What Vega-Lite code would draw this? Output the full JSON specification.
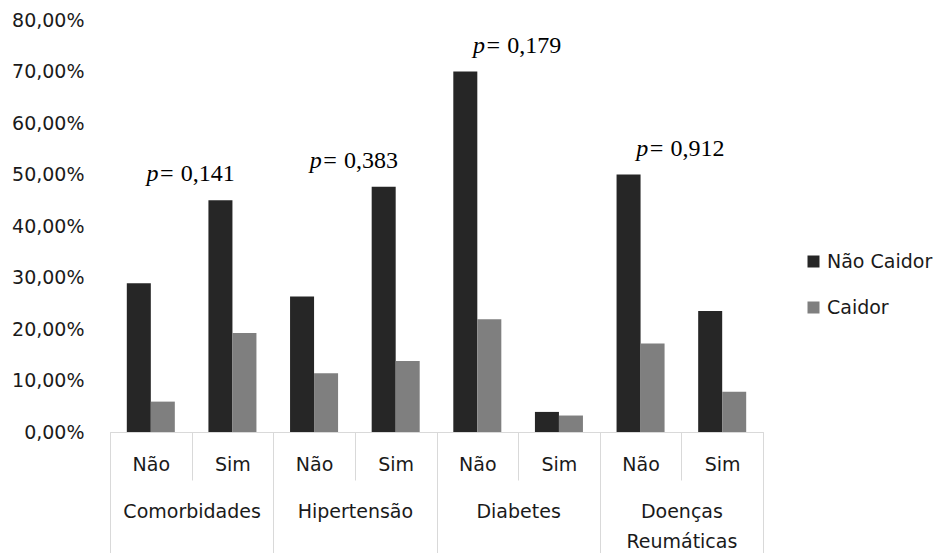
{
  "$schema": "https://vega.github.io/schema/vega-lite/v6.json",
  "width": 653,
  "height": 412,
  "autosize": "none",
  "padding": {"left": 110, "top": 20, "right": 176, "bottom": 121},
  "background": "white",
  "config": {
    "view": {"stroke": null},
    "font": "DejaVu Sans",
    "locale": {"number": {"decimal": ",", "thousands": ".", "grouping": [3], "currency": ["R$", ""]}}
  },
  "datasets": {
    "bars": [
      {"group": "Comorbidades", "key": "Comorbidades|Não", "serie": "Não Caidor", "value": 0.289},
      {"group": "Comorbidades", "key": "Comorbidades|Não", "serie": "Caidor", "value": 0.059},
      {"group": "Comorbidades", "key": "Comorbidades|Sim", "serie": "Não Caidor", "value": 0.450},
      {"group": "Comorbidades", "key": "Comorbidades|Sim", "serie": "Caidor", "value": 0.192},
      {"group": "Hipertensão", "key": "Hipertensão|Não", "serie": "Não Caidor", "value": 0.263},
      {"group": "Hipertensão", "key": "Hipertensão|Não", "serie": "Caidor", "value": 0.114},
      {"group": "Hipertensão", "key": "Hipertensão|Sim", "serie": "Não Caidor", "value": 0.476},
      {"group": "Hipertensão", "key": "Hipertensão|Sim", "serie": "Caidor", "value": 0.138},
      {"group": "Diabetes", "key": "Diabetes|Não", "serie": "Não Caidor", "value": 0.700},
      {"group": "Diabetes", "key": "Diabetes|Não", "serie": "Caidor", "value": 0.219},
      {"group": "Diabetes", "key": "Diabetes|Sim", "serie": "Não Caidor", "value": 0.039},
      {"group": "Diabetes", "key": "Diabetes|Sim", "serie": "Caidor", "value": 0.032},
      {"group": "Doenças Reumáticas", "key": "Doenças Reumáticas|Não", "serie": "Não Caidor", "value": 0.500},
      {"group": "Doenças Reumáticas", "key": "Doenças Reumáticas|Não", "serie": "Caidor", "value": 0.172},
      {"group": "Doenças Reumáticas", "key": "Doenças Reumáticas|Sim", "serie": "Não Caidor", "value": 0.235},
      {"group": "Doenças Reumáticas", "key": "Doenças Reumáticas|Sim", "serie": "Caidor", "value": 0.078}
    ],
    "pvals": [
      {"group": "Comorbidades", "p": 0.141},
      {"group": "Hipertensão", "p": 0.383},
      {"group": "Diabetes", "p": 0.179},
      {"group": "Doenças Reumáticas", "p": 0.912}
    ]
  },
  "layer": [
    {
      "data": {"name": "bars"},
      "mark": {"type": "bar"},
      "encoding": {
        "x": {
          "field": "key", "type": "nominal", "sort": null,
          "scale": {"paddingInner": 0, "paddingOuter": 0},
          "axis": {
            "title": null, "orient": "bottom", "labelAngle": 0,
            "labelExpr": "split(datum.label, '|')[1]",
            "tickBand": "extent", "tickSize": 48, "tickColor": "#d9d9d9", "tickWidth": 1,
            "domainColor": "#d9d9d9", "domainWidth": 1,
            "labelPadding": -25, "labelBaseline": "top",
            "labelFont": "DejaVu Sans", "labelFontSize": 19, "labelColor": "#1a1a1a",
            "labelOverlap": false
          }
        },
        "xOffset": {
          "field": "serie", "type": "nominal", "sort": ["Não Caidor", "Caidor"],
          "scale": {"paddingInner": 0, "paddingOuter": 0.7}
        },
        "y": {
          "field": "value", "type": "quantitative",
          "scale": {"domain": [0, 0.8], "nice": false},
          "axis": {
            "title": null, "values": [0, 0.1, 0.2, 0.3, 0.4, 0.5, 0.6, 0.7, 0.8],
            "format": ".2%", "domain": false, "ticks": false, "grid": false,
            "labelPadding": 26, "labelFont": "DejaVu Sans", "labelFontSize": 19, "labelColor": "#1a1a1a"
          }
        },
        "color": {
          "field": "serie", "type": "nominal", "sort": ["Não Caidor", "Caidor"],
          "scale": {"range": ["#262626", "#7f7f7f"]},
          "legend": {
            "title": null, "orient": "none", "legendX": 694, "legendY": 232,
            "symbolType": "square", "symbolSize": 144, "symbolStrokeWidth": 0,
            "labelFont": "DejaVu Sans", "labelFontSize": 19, "labelColor": "#1a1a1a",
            "rowPadding": 26, "labelOffset": 4
          }
        }
      }
    },
    {
      "data": {"name": "bars"},
      "transform": [
        {"aggregate": [{"op": "max", "field": "value", "as": "top"}], "groupby": ["group"]},
        {"lookup": "group", "from": {"data": {"name": "pvals"}, "key": "group", "fields": ["p"]}}
      ],
      "encoding": {
        "x": {
          "field": "group", "type": "nominal",
          "sort": ["Comorbidades", "Hipertensão", "Diabetes", "Doenças Reumáticas"],
          "scale": {"paddingInner": 0, "paddingOuter": 0},
          "axis": {
            "title": null, "orient": "bottom", "labelAngle": 0,
            "labelExpr": "split(datum.label, ' ')",
            "tickBand": "extent", "tickSize": 121, "tickColor": "#d9d9d9", "tickWidth": 1,
            "domainColor": "#d9d9d9", "domainWidth": 1,
            "labelPadding": -51, "labelBaseline": "top", "labelLineHeight": 30,
            "labelFont": "DejaVu Sans", "labelFontSize": 19, "labelColor": "#1a1a1a",
            "labelOverlap": false
          }
        },
        "y": {"field": "top", "type": "quantitative"}
      },
      "layer": [
        {
          "mark": {"type": "text", "text": "p=", "font": "Liberation Serif", "fontStyle": "italic", "fontSize": 24, "align": "right", "baseline": "middle", "dx": -17, "dy": -26, "color": "#000000"}
        },
        {
          "mark": {"type": "text", "font": "Liberation Serif", "fontSize": 24, "align": "left", "baseline": "middle", "dx": -11, "dy": -26, "color": "#000000"},
          "encoding": {"text": {"field": "p", "type": "quantitative", "format": ".3f"}}
        }
      ]
    }
  ],
  "resolve": {"scale": {"x": "independent"}, "axis": {"x": "independent"}}
}
